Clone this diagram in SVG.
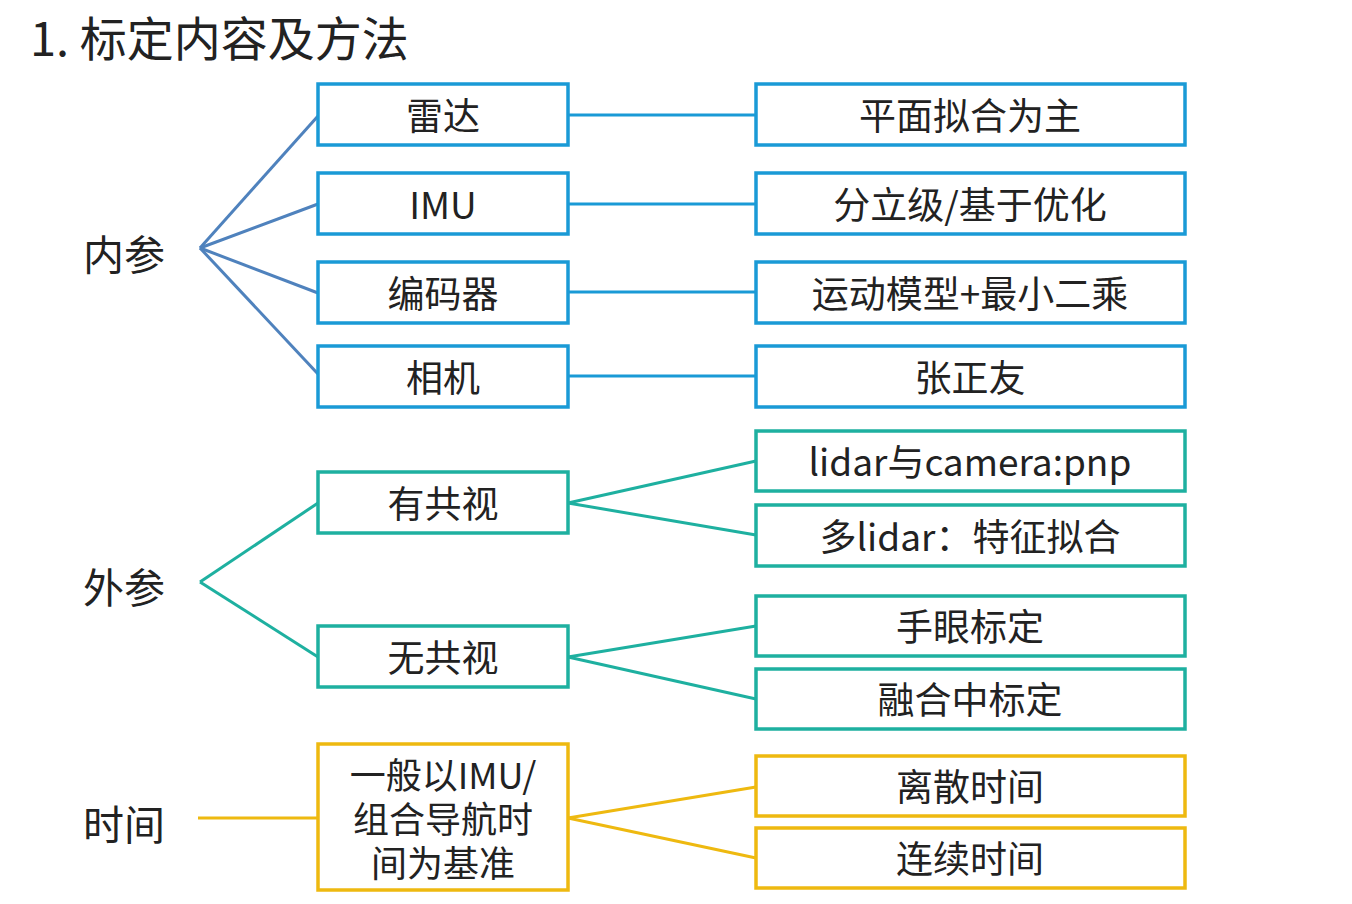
<svg xmlns="http://www.w3.org/2000/svg" width="1352" height="904" viewBox="0 0 1352 904">
<style>
text{font-family:"Noto Sans CJK SC","Microsoft YaHei",sans-serif;fill:#222;text-anchor:middle;dominant-baseline:central}
.t{font-size:37px}
.lbl{font-size:41px}
.b rect{fill:#fff;stroke:#1a9ad6;stroke-width:3.5}
.g rect{fill:#fff;stroke:#1eb0a0;stroke-width:3.5}
.y rect{fill:#fff;stroke:#eeb910;stroke-width:3.5}
.cb line{stroke:#4f82bd;stroke-width:3}
.cbh line{stroke:#1a9ad6;stroke-width:3}
.cg line{stroke:#1eb0a0;stroke-width:3}
.cy line{stroke:#eeb910;stroke-width:3}
</style>
<rect width="1352" height="904" fill="#fff"/>
<text x="30" y="35" style="font-size:47px;text-anchor:start">1. 标定内容及方法</text>
<g id="lbl-neican"><text class="lbl" x="124" y="252">内参</text></g>
<g id="lbl-waican"><text class="lbl" x="124" y="585">外参</text></g>
<g id="lbl-shijian"><text class="lbl" x="124" y="822">时间</text></g>
<g id="connectors">
<g class="cb">
<line x1="200" y1="248" x2="318" y2="116"/>
<line x1="200" y1="248" x2="318" y2="204"/>
<line x1="200" y1="248" x2="318" y2="293"/>
<line x1="200" y1="248" x2="318" y2="374"/>
</g>
<g class="cbh">
<line x1="568" y1="115" x2="756" y2="115"/>
<line x1="568" y1="204" x2="756" y2="204"/>
<line x1="568" y1="292" x2="756" y2="292"/>
<line x1="568" y1="376" x2="756" y2="376"/>
</g>
<g class="cg">
<line x1="200" y1="582" x2="318" y2="503"/>
<line x1="200" y1="582" x2="318" y2="657"/>
<line x1="568" y1="503" x2="756" y2="461"/>
<line x1="568" y1="503" x2="756" y2="535"/>
<line x1="568" y1="657" x2="756" y2="626"/>
<line x1="568" y1="657" x2="756" y2="699"/>
</g>
<g class="cy">
<line x1="198" y1="818" x2="318" y2="818"/>
<line x1="568" y1="818" x2="756" y2="787"/>
<line x1="568" y1="818" x2="756" y2="858"/>
</g>
</g>
<g id="n-leida" class="b"><rect x="318" y="84" width="250" height="61"/><text class="t" x="443" y="114">雷达</text></g>
<g id="n-imu" class="b"><rect x="318" y="173" width="250" height="61"/><text class="t" x="443" y="203">IMU</text></g>
<g id="n-bianmaqi" class="b"><rect x="318" y="262" width="250" height="61"/><text class="t" x="443" y="292">编码器</text></g>
<g id="n-xiangji" class="b"><rect x="318" y="346" width="250" height="61"/><text class="t" x="443" y="376">相机</text></g>
<g id="n-pingmian" class="b"><rect x="756" y="84" width="429" height="61"/><text class="t" x="970" y="114">平面拟合为主</text></g>
<g id="n-fenli" class="b"><rect x="756" y="173" width="429" height="61"/><text class="t" x="970" y="203">分立级/基于优化</text></g>
<g id="n-yundong" class="b"><rect x="756" y="262" width="429" height="61"/><text class="t" x="970" y="292">运动模型+最小二乘</text></g>
<g id="n-zhang" class="b"><rect x="756" y="346" width="429" height="61"/><text class="t" x="970" y="376">张正友</text></g>
<g id="n-gongshi" class="g"><rect x="318" y="472" width="250" height="61"/><text class="t" x="443" y="502">有共视</text></g>
<g id="n-wugongshi" class="g"><rect x="318" y="626" width="250" height="61"/><text class="t" x="443" y="656">无共视</text></g>
<g id="n-pnp" class="g"><rect x="756" y="431" width="429" height="60"/><text class="t" x="970" y="460">lidar与camera:pnp</text></g>
<g id="n-duolidar" class="g"><rect x="756" y="505" width="429" height="61"/><text class="t" x="970" y="535">多lidar：特征拟合</text></g>
<g id="n-shouyan" class="g"><rect x="756" y="596" width="429" height="60"/><text class="t" x="970" y="625">手眼标定</text></g>
<g id="n-ronghe" class="g"><rect x="756" y="669" width="429" height="60"/><text class="t" x="970" y="698">融合中标定</text></g>
<g id="n-jizhun" class="y"><rect x="318" y="744" width="250" height="146"/>
<text class="t" x="443" y="773" style="font-size:36px"><tspan x="443" y="773">一般以IMU/</tspan><tspan x="443" y="817">组合导航时</tspan><tspan x="443" y="861">间为基准</tspan></text></g>
<g id="n-lisan" class="y"><rect x="756" y="756" width="429" height="60"/><text class="t" x="970" y="785">离散时间</text></g>
<g id="n-lianxu" class="y"><rect x="756" y="828" width="429" height="60"/><text class="t" x="970" y="857">连续时间</text></g>
</svg>
